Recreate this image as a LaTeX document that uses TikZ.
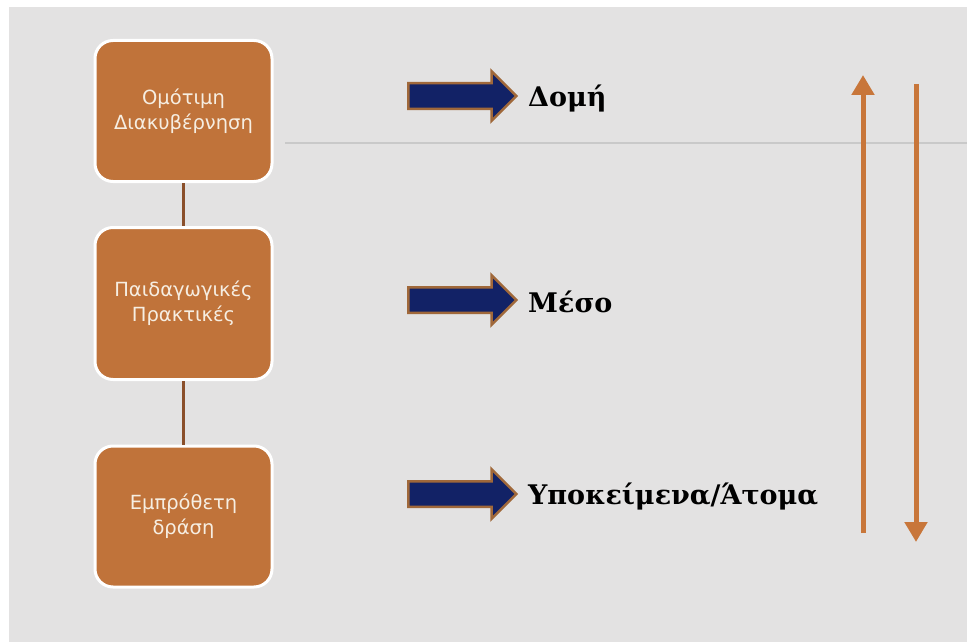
\documentclass[tikz,border=0pt]{standalone}
\usepackage{fontspec}
\setmainfont{DejaVu Serif}
\newfontfamily\boxfont{DejaVu Sans}
\usetikzlibrary{shapes.arrows,arrows.meta}
\definecolor{bggray}{HTML}{E3E2E2}
\definecolor{boxfill}{HTML}{C0733A}
\definecolor{linkbrown}{HTML}{8A4F2A}
\definecolor{navy}{HTML}{122266}
\definecolor{rimbrown}{HTML}{A0683A}
\definecolor{flowor}{HTML}{C8763A}
\definecolor{rule}{HTML}{C9C9C9}
\definecolor{cream}{HTML}{F6EEE2}
\tikzset{
  levelbox/.style={draw=white, line width=3pt, fill=boxfill, rounded corners=18pt,
    minimum width=177pt, text width=172pt, align=center, text=cream,
    font=\boxfont\fontsize{19.5}{25}\selectfont, inner sep=0pt},
  link/.style={draw=linkbrown, line width=3pt},
  blockarrow/.style={single arrow, draw=rimbrown, fill=navy, line width=2.5pt,
    minimum width=47pt, minimum height=108pt, single arrow head extend=12pt,
    single arrow head indent=0pt, inner xsep=0pt, inner ysep=11.5pt},
  levellabel/.style={anchor=west, font=\bfseries\fontsize{27}{32}\selectfont, text=black, inner sep=0pt},
  flow/.style={draw=flowor, line width=5pt, -{Triangle[width=22pt,length=20pt]}}
}
\begin{document}
\begin{tikzpicture}[x=1pt,y=-1pt]
  \useasboundingbox (0,0) rectangle (967,642);
  \fill[white] (0,0) rectangle (967,642);
  \fill[bggray] (9,7) rectangle (967,642);
  \draw[rule, line width=1.5pt] (285,143) -- (967,143);

  % the three levels
  \node[levelbox, minimum height=141pt] (gov) at (183.5,111) {Ομότιμη\\Διακυβέρνηση};
  \node[levelbox, minimum height=152pt] (ped) at (183.5,303.5) {Παιδαγωγικές\\Πρακτικές};
  \node[levelbox, minimum height=141pt] (act) at (183.5,516.5) {Εμπρόθετη\\δράση};
  \draw[link] (gov.south) -- (ped.north);
  \draw[link] (ped.south) -- (act.north);

  % pointers to the labels
  \node[blockarrow] (a1) at (456,96) {};
  \node[blockarrow] (a2) at (456,300) {};
  \node[blockarrow] (a3) at (456,494) {};
  \node[levellabel] (l1) at (528,99) {Δομή};
  \node[levellabel] (l2) at (528,302) {Μέσο};
  \node[levellabel] (l3) at (528,497) {Υποκείμενα/Άτομα};

  % upward and downward flows
  \coordinate (upS) at (863,533);
  \coordinate (upE) at (863,75);
  \coordinate (dnS) at (916,84);
  \coordinate (dnE) at (916,542);
  \draw[flow] (upS) -- (upE);
  \draw[flow] (dnS) -- (dnE);
\end{tikzpicture}
\end{document}
